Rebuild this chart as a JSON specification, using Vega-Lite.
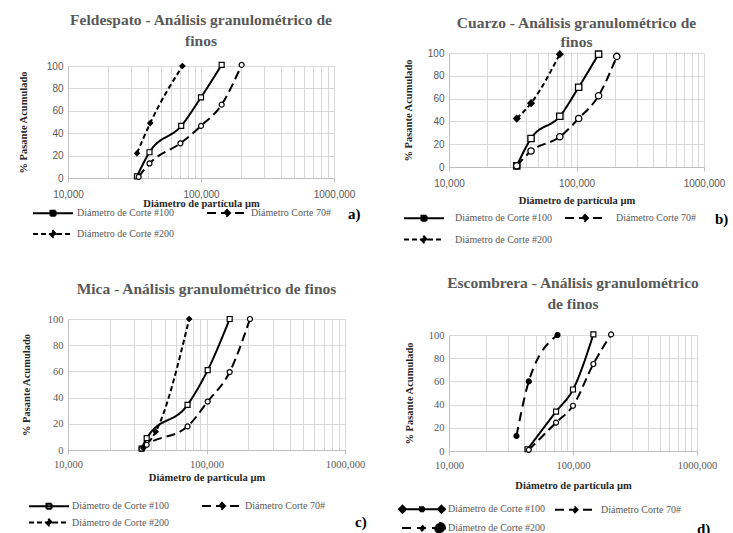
{
  "$schema": "https://vega.github.io/schema/vega-lite/v6.json",
  "background": "white",
  "padding": {"left": 18, "top": 4, "right": 0, "bottom": 0},
  "spacing": 31,
  "resolve": {
    "scale": {"x": "independent", "y": "independent", "strokeDash": "independent", "shape": "independent", "fill": "independent", "size": "independent"},
    "legend": {"strokeDash": "independent"}
  },
  "config": {
    "view": {"stroke": null},
    "font": "Liberation Serif",
    "title": {"font": "Liberation Serif", "fontSize": 15.5, "fontWeight": "bold", "color": "#595959", "anchor": "middle"},
    "axis": {
      "gridColor": "#d9d9d9", "gridWidth": 1, "domainColor": "#bfbfbf", "tickColor": "#bfbfbf",
      "labelColor": "#595959", "labelFontSize": 10, "titleColor": "#262626", "titleFontWeight": "bold",
      "titleFont": "Liberation Serif", "titleFontSize": 10.5, "labelFlush": false, "labelBound": false
    },
    "axisY": {"ticks": false, "labelPadding": 5},
    "legend": {
      "direction": "horizontal", "columns": 2, "labelFont": "Liberation Serif", "labelFontSize": 10,
      "labelColor": "#595959", "symbolStrokeWidth": 2, "symbolStrokeColor": "black", "padding": 0,
      "symbolType": "M-4,0H4", "symbolSize": 100,
      "titleOrient": "right",
      "titleFontSize": 15, "titleFontWeight": "bold", "titleColor": "black", "titleFont": "Liberation Serif",
      "labelLimit": 200
    }
  },
  "hconcat": [
    {
      "spacing": 0,
      "resolve": {
        "scale": {"x": "independent", "y": "independent", "strokeDash": "independent", "shape": "independent", "fill": "independent", "size": "independent"},
        "legend": {"strokeDash": "independent"}
      },
      "vconcat": [
        {"width": 10, "height": 9, "data": {"values": []}, "mark": {"type": "point", "opacity": 0}},
        {
          "width": 266, "height": 112,
          "title": {"text": ["Feldespato   - Análisis granulométrico  de", "finos"], "offset": 10, "lineHeight": 21},
          "data": {"values": [
            {"s": "Diámetro de Corte #100", "d": 33, "p": 1.5},
            {"s": "Diámetro de Corte #100", "d": 41, "p": 23},
            {"s": "Diámetro de Corte #100", "d": 71, "p": 46.5},
            {"s": "Diámetro de Corte #100", "d": 100, "p": 72},
            {"s": "Diámetro de Corte #100", "d": 143, "p": 101},
            {"s": "Diámetro Corte 70#", "d": 34, "p": 1},
            {"s": "Diámetro Corte 70#", "d": 41, "p": 13},
            {"s": "Diámetro Corte 70#", "d": 70, "p": 31},
            {"s": "Diámetro Corte 70#", "d": 100, "p": 46.5},
            {"s": "Diámetro Corte 70#", "d": 143, "p": 65.5},
            {"s": "Diámetro Corte 70#", "d": 202, "p": 101},
            {"s": "Diámetro de Corte #200", "d": 33, "p": 22},
            {"s": "Diámetro de Corte #200", "d": 41.5, "p": 49},
            {"s": "Diámetro de Corte #200", "d": 72.5, "p": 100}
          ]},
          "encoding": {
            "x": {"field": "d", "type": "quantitative", "scale": {"type": "log", "domain": [10, 1000], "nice": false},
              "axis": {"title": "Diámetro de partícula µm", "values": [10,20,30,40,50,60,70,80,90,100,200,300,400,500,600,700,800,900,1000],
                "labelExpr": "(datum.value==10||datum.value==100||datum.value==1000) ? format(datum.value,'d')+',000' : ''",
                "labelFont": "Liberation Sans", "labelPadding": 7, "titlePadding": -1, "tickSize": 4,
                "tickOpacity": {"condition": {"test": "datum.value==10||datum.value==100||datum.value==1000", "value": 1}, "value": 0}}},
            "y": {"field": "p", "type": "quantitative", "scale": {"domain": [0, 100], "nice": false},
              "axis": {"title": "% Pasante Acumulado", "values": [0,20,40,60,80,100], "labelFont": "Liberation Sans", "titlePadding": 18}}
          },
          "layer": [
            {"mark": {"type": "line", "interpolate": "monotone", "strokeWidth": 2, "color": "black"},
              "encoding": {"strokeDash": {"field": "s", "type": "nominal",
                "scale": {"domain": ["Diámetro de Corte #100", "Diámetro Corte 70#", "Diámetro de Corte #200"], "range": [[1, 0], [9, 5], [5, 3]]},
                "legend": {"title": "a)", "orient": "none", "legendX": -36, "legendY": 141, "columnPadding": 29, "titlePadding": 17, "rowPadding": 7,
                  "symbolOffset": 15, "labelOffset": 18, "titleAnchor": "start",
                  "encode": {
                    "labels": {"update": {"font": {"value": "Liberation Serif"}, "fontSize": {"value": 10}, "fill": {"value": "#595959"}}},
                    "symbols": {"update": {
                    "shape": {"signal": "datum.value==='Diámetro de Corte #100' ? 'M-4,0H4M-0.5,-0.5H0.5V0.5H-0.5Z' : 'M-4,0H4M0,-0.6L0.6,0L0,0.6L-0.6,0Z'"},
                    "stroke": {"value": "black"}, "strokeWidth": {"value": 2},
                    "strokeDash": {"signal": "datum.value==='Diámetro de Corte #100' ? [1,0] : datum.value==='Diámetro Corte 70#' ? [10,8] : [5,3]"},
                    "fill": {"value": "black"}}}}}}}},
            {"mark": {"type": "point", "filled": true, "stroke": "black", "strokeWidth": 1.2, "opacity": 1},
              "encoding": {
                "shape": {"field": "s", "type": "nominal", "scale": {"range": ["circle", "square", "diamond"]}, "legend": null},
                "fill": {"field": "s", "type": "nominal", "scale": {"range": ["white", "white", "black"]}, "legend": null},
                "size": {"value": 25}}}
          ]
        },
        {"width": 10, "height": 40, "data": {"values": []}, "mark": {"type": "point", "opacity": 0}},
        {
          "width": 277, "height": 131,
          "title": {"text": "Mica  - Análisis granulométrico de finos", "offset": 17},
          "data": {"values": [
            {"s": "Diámetro de Corte #100", "d": 34, "p": 1},
            {"s": "Diámetro de Corte #100", "d": 37, "p": 9},
            {"s": "Diámetro de Corte #100", "d": 73, "p": 34.5},
            {"s": "Diámetro de Corte #100", "d": 102, "p": 61},
            {"s": "Diámetro de Corte #100", "d": 147, "p": 100},
            {"s": "Diámetro Corte 70#", "d": 34, "p": 1},
            {"s": "Diámetro Corte 70#", "d": 37, "p": 4},
            {"s": "Diámetro Corte 70#", "d": 73, "p": 18},
            {"s": "Diámetro Corte 70#", "d": 102, "p": 37},
            {"s": "Diámetro Corte 70#", "d": 147, "p": 59.5},
            {"s": "Diámetro Corte 70#", "d": 206, "p": 100},
            {"s": "Diámetro de Corte #200", "d": 35, "p": 1.5},
            {"s": "Diámetro de Corte #200", "d": 43, "p": 14},
            {"s": "Diámetro de Corte #200", "d": 75, "p": 100}
          ]},
          "encoding": {
            "x": {"field": "d", "type": "quantitative", "scale": {"type": "log", "domain": [10, 1000], "nice": false},
              "axis": {"title": "Diámetro de partícula µm", "values": [10,20,30,40,50,60,70,80,90,100,200,300,400,500,600,700,800,900,1000],
                "labelExpr": "(datum.value==10||datum.value==100||datum.value==1000) ? format(datum.value,'d')+',000' : ''",
                "labelFontSize": 10.5, "labelPadding": 5, "titlePadding": 3, "tickSize": 4,
                "tickOpacity": {"condition": {"test": "datum.value==10||datum.value==100||datum.value==1000", "value": 1}, "value": 0}}},
            "y": {"field": "p", "type": "quantitative", "scale": {"domain": [0, 100], "nice": false},
              "axis": {"title": "% Pasante Acumulado", "values": [0,20,40,60,80,100], "labelFontSize": 10.5, "titlePadding": 16}}
          },
          "layer": [
            {"mark": {"type": "line", "interpolate": "monotone", "strokeWidth": 2, "color": "black"},
              "encoding": {"strokeDash": {"field": "s", "type": "nominal",
                "scale": {"domain": ["Diámetro de Corte #100", "Diámetro Corte 70#", "Diámetro de Corte #200"], "range": [[1, 0], [9, 5], [5, 3]]},
                "legend": {"title": "c)", "orient": "none", "legendX": -40, "legendY": 181, "columnPadding": 29, "titlePadding": 30, "rowPadding": 2.5, "titleAnchor": "end",
                  "symbolOffset": 15, "labelOffset": 17,
                  "encode": {
                    "labels": {"update": {"font": {"value": "Liberation Serif"}, "fontSize": {"value": 10}, "fill": {"value": "#595959"}}},
                    "symbols": {"update": {
                    "shape": {"signal": "datum.value==='Diámetro de Corte #100' ? 'M-4,0H4M-0.5,-0.5H0.5V0.5H-0.5Z' : 'M-4,0H4M0,-0.6L0.6,0L0,0.6L-0.6,0Z'"},
                    "stroke": {"value": "black"}, "strokeWidth": {"value": 2},
                    "strokeDash": {"signal": "datum.value==='Diámetro de Corte #100' ? [1,0] : datum.value==='Diámetro Corte 70#' ? [10,8] : [5,3]"},
                    "fill": {"signal": "datum.value==='Diámetro de Corte #100' ? 'white' : 'black'"}}}}}}}},
            {"mark": {"type": "point", "filled": true, "stroke": "black", "strokeWidth": 1.2, "opacity": 1},
              "encoding": {
                "shape": {"field": "s", "type": "nominal", "scale": {"range": ["circle", "square", "diamond"]}, "legend": null},
                "fill": {"field": "s", "type": "nominal", "scale": {"range": ["white", "white", "black"]}, "legend": null},
                "size": {"value": 25}}}
          ]
        }
      ]
    },
    {
      "spacing": 0,
      "align": "none",
      "resolve": {
        "scale": {"x": "independent", "y": "independent", "strokeDash": "independent", "shape": "independent", "fill": "independent", "size": "independent"},
        "legend": {"strokeDash": "independent"}
      },
      "vconcat": [
        {"width": 10, "height": 11, "data": {"values": []}, "mark": {"type": "point", "opacity": 0}},
        {
          "width": 255, "height": 114,
          "title": {"text": ["Cuarzo  - Análisis granulométrico de", "finos"], "offset": -2, "lineHeight": 19},
          "data": {"values": [
            {"s": "Diámetro de Corte #100", "d": 34, "p": 1},
            {"s": "Diámetro de Corte #100", "d": 44, "p": 25},
            {"s": "Diámetro de Corte #100", "d": 74, "p": 44.5},
            {"s": "Diámetro de Corte #100", "d": 104, "p": 70},
            {"s": "Diámetro de Corte #100", "d": 149, "p": 99},
            {"s": "Diámetro Corte 70#", "d": 34, "p": 1},
            {"s": "Diámetro Corte 70#", "d": 44, "p": 14},
            {"s": "Diámetro Corte 70#", "d": 74, "p": 26.5},
            {"s": "Diámetro Corte 70#", "d": 104, "p": 42.5},
            {"s": "Diámetro Corte 70#", "d": 149, "p": 62.5},
            {"s": "Diámetro Corte 70#", "d": 207, "p": 97},
            {"s": "Diámetro de Corte #200", "d": 34, "p": 42.5},
            {"s": "Diámetro de Corte #200", "d": 44, "p": 56},
            {"s": "Diámetro de Corte #200", "d": 74, "p": 99}
          ]},
          "encoding": {
            "x": {"field": "d", "type": "quantitative", "scale": {"type": "log", "domain": [10, 1000], "nice": false},
              "axis": {"title": "Diámetro de partícula µm", "values": [10,20,30,40,50,60,70,80,90,100,200,300,400,500,600,700,800,900,1000],
                "labelExpr": "(datum.value==10||datum.value==100||datum.value==1000) ? format(datum.value,'d')+',000' : ''",
                "labelFont": "Liberation Sans", "labelPadding": 7, "titlePadding": 7, "tickSize": 4,
                "tickOpacity": {"condition": {"test": "datum.value==10||datum.value==100||datum.value==1000", "value": 1}, "value": 0}}},
            "y": {"field": "p", "type": "quantitative", "scale": {"domain": [0, 100], "nice": false},
              "axis": {"title": "% Pasante Acumulado", "values": [0,20,40,60,80,100], "labelFont": "Liberation Sans", "titlePadding": 14}}
          },
          "layer": [
            {"mark": {"type": "line", "interpolate": "monotone", "strokeWidth": 2, "color": "black"},
              "encoding": {"strokeDash": {"field": "s", "type": "nominal",
                "scale": {"domain": ["Diámetro de Corte #100", "Diámetro Corte 70#", "Diámetro de Corte #200"], "range": [[1, 0], [9, 5], [5, 3]]},
                "legend": {"title": "b)", "orient": "none", "legendX": -46, "legendY": 159, "columnPadding": 9, "titlePadding": 19, "rowPadding": 7.5, "titleAnchor": "start",
                  "symbolOffset": 15, "labelOffset": 25,
                  "encode": {
                    "labels": {"update": {"font": {"value": "Liberation Serif"}, "fontSize": {"value": 10}, "fill": {"value": "#595959"}}},
                    "symbols": {"update": {
                    "shape": {"signal": "datum.value==='Diámetro de Corte #100' ? 'M-4,0H4M-0.5,-0.5H0.5V0.5H-0.5Z' : 'M-4,0H4M0,-0.6L0.6,0L0,0.6L-0.6,0Z'"},
                    "stroke": {"value": "black"}, "strokeWidth": {"value": 2},
                    "strokeDash": {"signal": "datum.value==='Diámetro de Corte #100' ? [1,0] : datum.value==='Diámetro Corte 70#' ? [10,8] : [5,3]"},
                    "fill": {"value": "black"}}}}}}}},
            {"mark": {"type": "point", "filled": true, "stroke": "black", "strokeWidth": 1.3, "opacity": 1},
              "encoding": {
                "shape": {"field": "s", "type": "nominal", "scale": {"range": ["circle", "square", "diamond"]}, "legend": null},
                "fill": {"field": "s", "type": "nominal", "scale": {"range": ["white", "white", "black"]}, "legend": null},
                "size": {"value": 40}}}
          ]
        },
        {"width": 10, "height": 29, "data": {"values": []}, "mark": {"type": "point", "opacity": 0}},
        {
          "width": 248, "height": 116,
          "title": {"text": ["Escombrera  - Análisis granulométrico", "de  finos"], "offset": 17, "lineHeight": 21},
          "data": {"values": [
            {"s": "Diámetro de Corte #100", "d": 43, "p": 1.5},
            {"s": "Diámetro de Corte #100", "d": 73, "p": 34},
            {"s": "Diámetro de Corte #100", "d": 100, "p": 53},
            {"s": "Diámetro de Corte #100", "d": 146, "p": 100.5},
            {"s": "Diámetro Corte 70#", "d": 44, "p": 1},
            {"s": "Diámetro Corte 70#", "d": 73, "p": 24.5},
            {"s": "Diámetro Corte 70#", "d": 100, "p": 39},
            {"s": "Diámetro Corte 70#", "d": 146, "p": 75},
            {"s": "Diámetro Corte 70#", "d": 203, "p": 100.5},
            {"s": "Diámetro de Corte #200", "d": 35, "p": 13},
            {"s": "Diámetro de Corte #200", "d": 44, "p": 60},
            {"s": "Diámetro de Corte #200", "d": 75, "p": 100}
          ]},
          "encoding": {
            "x": {"field": "d", "type": "quantitative", "scale": {"type": "log", "domain": [10, 1000], "nice": false},
              "axis": {"title": "Diámetro de partícula µm", "values": [10,20,30,40,50,60,70,80,90,100,200,300,400,500,600,700,800,900,1000],
                "labelExpr": "(datum.value==10||datum.value==100||datum.value==1000) ? format(datum.value,'d')+',000' : ''",
                "labelFontSize": 10.5, "labelPadding": 5, "titlePadding": 10, "tickSize": 4,
                "tickOpacity": {"condition": {"test": "datum.value==10||datum.value==100||datum.value==1000", "value": 1}, "value": 0}}},
            "y": {"field": "p", "type": "quantitative", "scale": {"domain": [0, 100], "nice": false},
              "axis": {"title": "% Pasante Acumulado", "values": [0,20,40,60,80,100], "labelFontSize": 10.5, "titlePadding": 14}}
          },
          "layer": [
            {"mark": {"type": "line", "interpolate": "monotone", "strokeWidth": 2, "color": "black"},
              "encoding": {"strokeDash": {"field": "s", "type": "nominal",
                "scale": {"domain": ["Diámetro de Corte #100", "Diámetro Corte 70#", "Diámetro de Corte #200"], "range": [[1, 0], [9, 5], [9, 6]]},
                "legend": {"title": "d)", "orient": "none", "legendX": -51, "legendY": 168, "columnPadding": 6, "titlePadding": 16, "rowPadding": 2, "titleAnchor": "end",
                  "symbolOffset": 18, "labelOffset": 20,
                  "encode": {
                    "labels": {"update": {"font": {"value": "Liberation Serif"}, "fontSize": {"value": 10}, "fill": {"value": "#595959"}}},
                    "symbols": {"update": {
                    "shape": {"signal": "datum.value==='Diámetro de Corte #100' ? 'M-3.9,0H3.9M-0.4,-0.4H0.4V0.4H-0.4ZM-3.9,-0.7L-3.2,0L-3.9,0.7L-4.6,0ZM3.9,-0.7L4.6,0L3.9,0.7L3.2,0Z' : datum.value==='Diámetro de Corte #200' ? 'M-4,0H3M0,-0.5L0.5,0L0,0.5L-0.5,0ZM3.6,-1A1,1,0,1,1,3.6,1A1,1,0,1,1,3.6,-1Z' : 'M-4,0H4M0,-0.5L0.5,0L0,0.5L-0.5,0Z'"},
                    "stroke": {"value": "black"}, "strokeWidth": {"value": 2},
                    "strokeDash": {"signal": "datum.value==='Diámetro de Corte #100' ? [1,0] : [10,8]"},
                    "fill": {"value": "black"}}}}}}}},
            {"mark": {"type": "point", "filled": true, "stroke": "black", "strokeWidth": 1.2, "opacity": 1},
              "encoding": {
                "shape": {"field": "s", "type": "nominal", "scale": {"range": ["circle", "square", "circle"]}, "legend": null},
                "fill": {"field": "s", "type": "nominal", "scale": {"range": ["white", "white", "black"]}, "legend": null},
                "size": {"field": "s", "type": "nominal", "scale": {"range": [25, 25, 70]}, "legend": null}}}
          ]
        }
      ]
    }
  ]
}
